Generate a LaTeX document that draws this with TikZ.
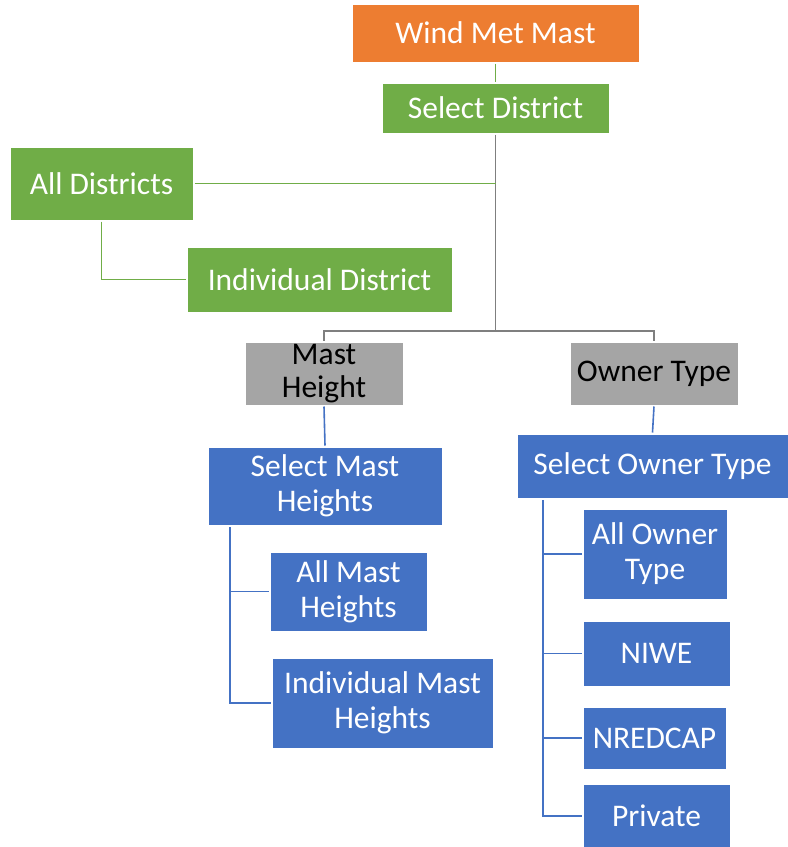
\documentclass[tikz,border=0pt]{standalone}
\usepackage{fontspec}
\setmainfont{Carlito}
\definecolor{corange}{HTML}{ED7D31}
\definecolor{cgreen}{HTML}{70AD47}
\definecolor{cgray}{HTML}{A5A5A5}
\definecolor{cblue}{HTML}{4472C4}
\definecolor{cline}{HTML}{7F7F7F}
\begin{document}
\begin{tikzpicture}[x=1pt,y=-1pt,
  box/.style={rectangle, draw=white, line width=0.6pt, inner sep=0pt, outer sep=1.5pt, align=center,
    text=white, font=\fontsize{31.5}{35}\selectfont},
  orangebox/.style={box, fill=corange},
  greenbox/.style={box, fill=cgreen},
  graybox/.style={box, fill=cgray, text=black, font=\fontsize{31.5}{33}\selectfont},
  bluebox/.style={box, fill=cblue},
  gline/.style={draw=cgreen, line width=1.6pt},
  kline/.style={draw=cline, line width=1.6pt},
  bline/.style={draw=cblue, line width=1.6pt}]
\useasboundingbox (0,0) rectangle (788,847);
\begin{scope}
\clip (0,0) rectangle (788,847);
\node[orangebox, minimum width=287pt, minimum height=58pt] (wind) at (495.5,33) {Wind Met Mast};
\node[greenbox, minimum width=227pt, minimum height=50pt] (seldist) at (495.5,108) {Select District};
\node[greenbox, minimum width=183pt, minimum height=73pt] (alld) at (101.5,183.5) {All Districts};
\node[greenbox, minimum width=265pt, minimum height=65pt] (indd) at (319.5,279.5) {Individual District};
\node[graybox, minimum width=158pt, minimum height=63pt] (mast) at (324,373.5) {Mast\\Height};
\node[graybox, minimum width=168pt, minimum height=63pt] (owner) at (654,373.5) {Owner Type};
\node[bluebox, minimum width=234pt, minimum height=78pt] (selmast) at (325,486) {Select Mast\\Heights};
\node[bluebox, minimum width=157pt, minimum height=79pt] (allmast) at (348.5,591.5) {All Mast\\Heights};
\node[bluebox, minimum width=221pt, minimum height=90pt] (indmast) at (382.5,703) {Individual Mast\\Heights};
\node[bluebox, minimum width=271pt, minimum height=64pt] (selowner) at (652.5,466) {Select Owner Type};
\node[bluebox, minimum width=144pt, minimum height=90pt] (allowner) at (655,554) {All Owner\\Type};
\node[bluebox, minimum width=147pt, minimum height=65pt] (niwe) at (656.5,653.5) {NIWE};
\node[bluebox, minimum width=143pt, minimum height=62pt] (nredcap) at (654.5,738) {NREDCAP};
\node[bluebox, minimum width=147pt, minimum height=64pt] (private) at (656.5,816) {Private};
\end{scope}
% top connectors
\draw[gline] (wind.south) -- (seldist.north);
\coordinate (jd) at (495.5,331);
\draw[kline] (seldist.south) -- (jd);
\draw[gline] (alld.east) -- (seldist.south |- alld.east);
\draw[gline] (alld.south) |- (indd.west);
\draw[kline] (mast.north) |- (jd) -| (owner.north);
% mast branch
\draw[bline] (mast.south) -- (selmast.north);
\coordinate (mtrunk) at (230,527);
\draw[bline] (mtrunk) |- (allmast.west);
\draw[bline] (mtrunk) |- (indmast.west);
% owner branch
\draw[bline] (owner.south) -- (selowner.north);
\coordinate (otrunk) at (543,500);
\draw[bline] (otrunk) |- (allowner.west);
\draw[bline] (otrunk) |- (niwe.west);
\draw[bline] (otrunk) |- (nredcap.west);
\draw[bline] (otrunk) |- (private.west);
\end{tikzpicture}
\end{document}
